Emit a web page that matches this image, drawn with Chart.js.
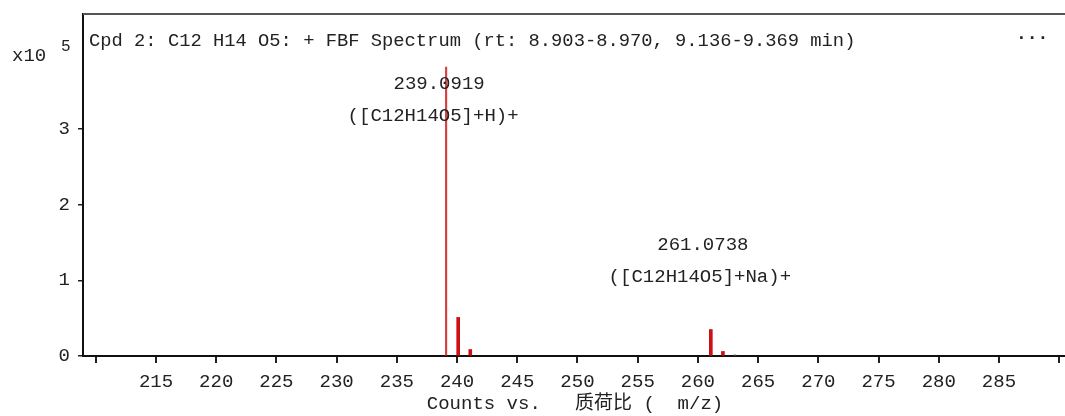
<!DOCTYPE html>
<html>
<head>
<meta charset="utf-8">
<script src="https://cdn.jsdelivr.net/npm/chart.js@4"></script>
<style>
  html, body { margin: 0; padding: 0; background: #fff; }
  #wrap { width: 1065px; height: 416px; position: relative; }
</style>
</head>
<body>
<div id="wrap"><canvas id="spectre"></canvas></div>
<script>
// Pic principal (x10^5 counts)
const mzPrincipal = [239.0919];
const countsPrincipal = [3.82];

// Isotopes et adduit Na
const mzIsotopes = [240.0950, 241.0980, 261.0738, 262.0770];
const countsIsotopes = [0.51, 0.086, 0.35, 0.06];

// Petit pic gris
const mzMineur = [263.08];
const countsMineur = [0.015];

// Graduations
const ticksX = [210, 215, 220, 225, 230, 235, 240, 245, 250, 255, 260, 265, 270, 275, 280, 285, 290];
const ticksY = [0, 1, 2, 3];

const titre = 'Cpd 2: C12 H14 O5: + FBF Spectrum (rt: 8.903-8.970, 9.136-9.369 min)';
const etiquettes = [
    { mz: 239.0919, ligne1: '239.0919', ligne2: '([C12H14O5]+H)+' },
    { mz: 261.0738, ligne1: '261.0738', ligne2: '([C12H14O5]+Na)+' }
];

const police = '"Liberation Mono", "Noto Sans CJK SC", monospace';
const couleurTexte = '#222';

function enPoints(xs, ys) {
    return xs.map((x, i) => ({ x: x, y: ys[i] }));
}

// Textes et cadre dessinés après le graphique
const textesPlugin = {
    id: 'textes',
    afterDraw(chart) {
        const ctx = chart.ctx;
        const area = chart.chartArea;
        const sx = chart.scales.x;
        const sy = chart.scales.y;
        ctx.save();

        // bord du haut
        ctx.strokeStyle = '#555';
        ctx.lineWidth = 2;
        ctx.beginPath();
        ctx.moveTo(area.left, area.top);
        ctx.lineTo(1065, area.top);
        ctx.stroke();

        ctx.fillStyle = couleurTexte;
        ctx.font = '19px ' + police;
        ctx.textBaseline = 'middle';

        // x10^5
        ctx.textAlign = 'left';
        ctx.fillText('x10', 12, 56);
        ctx.font = '16px ' + police;
        ctx.fillText('5', 61, 47);

        // titre
        ctx.font = '18.8px ' + police;
        ctx.fillText(titre, 89, 41);
        ctx.font = 'bold 18px ' + police;
        ctx.fillText('\u00b7\u00b7\u00b7', 1016, 38);

        // étiquettes des pics
        ctx.font = '19px ' + police;
        ctx.textAlign = 'center';
        const e1 = etiquettes[0];
        ctx.fillText(e1.ligne1, sx.getPixelForValue(e1.mz) - 7, sy.getPixelForValue(3.6));
        ctx.fillText(e1.ligne2, sx.getPixelForValue(e1.mz) - 13, sy.getPixelForValue(3.17));
        const e2 = etiquettes[1];
        ctx.fillText(e2.ligne1, sx.getPixelForValue(e2.mz) - 8, sy.getPixelForValue(1.47));
        ctx.fillText(e2.ligne2, sx.getPixelForValue(e2.mz) - 11, sy.getPixelForValue(1.04));

        // titre de l'axe X
        ctx.fillText('Counts vs.   质荷比 (  m/z)', 575, 404);
        ctx.restore();
    }
};

function afficherSpectre() {
    const ctx = document.getElementById('spectre').getContext('2d');
    new Chart(ctx, {
        type: 'bar',
        data: {
            datasets: [{
                data: enPoints(mzPrincipal, countsPrincipal),
                backgroundColor: '#d8413f',
                barThickness: 1.5,
                grouped: false
            }, {
                data: enPoints(mzIsotopes, countsIsotopes),
                backgroundColor: '#cc1016',
                barThickness: 3,
                grouped: false
            }, {
                data: enPoints(mzMineur, countsMineur),
                backgroundColor: '#666',
                barThickness: 2,
                grouped: false
            }]
        },
        options: {
            responsive: true,
            maintainAspectRatio: false,
            animation: false,
            layout: { padding: { left: 0, top: 14, right: 1, bottom: 0 } },
            plugins: {
                legend: { display: false },
                tooltip: { enabled: false }
            },
            scales: {
                x: {
                    type: 'linear',
                    min: 208.94,
                    max: 290.4,
                    offset: false,
                    afterBuildTicks: s => { s.ticks = ticksX.map(v => ({ value: v })); },
                    afterFit: s => { s.height = 60; s.paddingLeft = 0; s.paddingRight = 0; },
                    ticks: {
                        color: couleurTexte,
                        font: { family: police, size: 19 },
                        padding: 8,
                        maxRotation: 0,
                        autoSkip: false,
                        callback: v => (v === 210 || v === 290) ? '' : String(v)
                    },
                    grid: { offset: false, drawOnChartArea: false, drawTicks: true, tickLength: 7, color: '#222', lineWidth: 2 },
                    border: { display: true, color: '#111', width: 2 }
                },
                y: {
                    min: 0,
                    max: 4.52,
                    afterBuildTicks: s => { s.ticks = ticksY.map(v => ({ value: v })); },
                    afterFit: s => { s.width = 83; s.paddingTop = 0; s.paddingBottom = 0; },
                    ticks: {
                        color: couleurTexte,
                        font: { family: police, size: 19 },
                        padding: 8
                    },
                    grid: { drawOnChartArea: false, drawTicks: true, tickLength: 5, color: '#222', lineWidth: 1.5 },
                    border: { display: true, color: '#111', width: 2 }
                }
            }
        },
        plugins: [textesPlugin]
    });
}

document.addEventListener("DOMContentLoaded", afficherSpectre);
</script>
</body>
</html>
